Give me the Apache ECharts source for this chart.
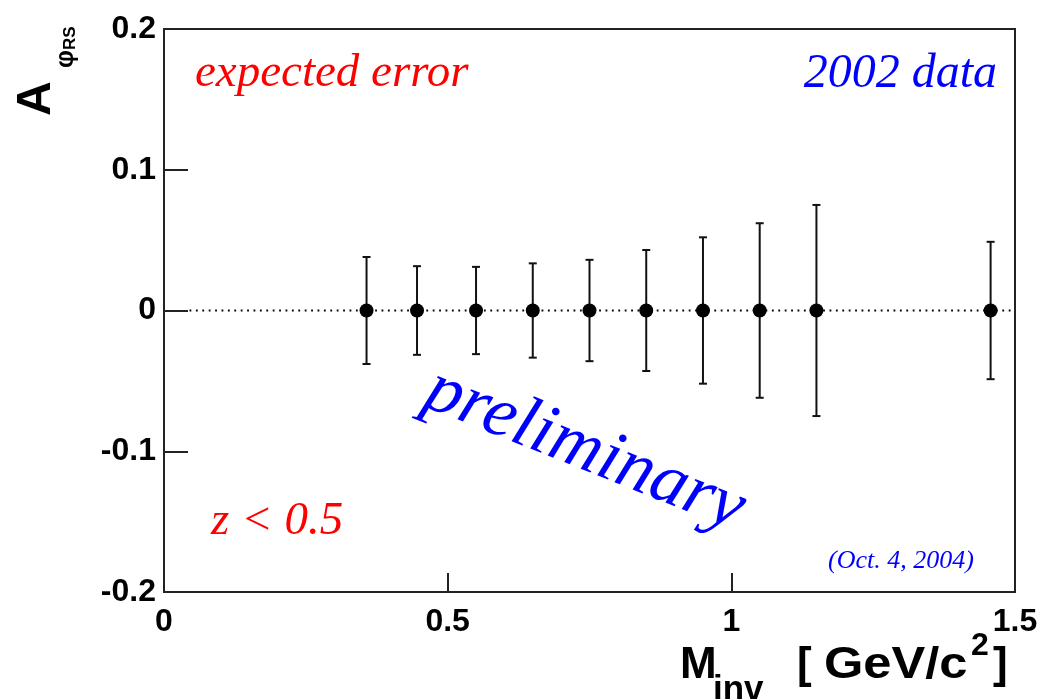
<!DOCTYPE html>
<html>
<head>
<meta charset="utf-8">
<script src="https://cdn.jsdelivr.net/npm/echarts@6/dist/echarts.min.js"></script>
<style>html,body{margin:0;padding:0;background:#fff;}#c{width:1043px;height:699px;}</style>
</head>
<body>
<div id="c"></div>
<script>
// Data
var massBins = [0.357, 0.446, 0.55, 0.65, 0.75, 0.85, 0.95, 1.05, 1.15, 1.457];
var asymValues = [0, 0, 0, 0, 0, 0, 0, 0, 0, 0];
var asymErrors = [0.038, 0.0315, 0.031, 0.0335, 0.036, 0.043, 0.052, 0.062, 0.075, 0.0488];
var zeroLine = [[0.045, 0], [1.495, 0]];
var xTicks = { min: 0, max: 1.5, interval: 0.5 };
var yTicks = { min: -0.2, max: 0.2, interval: 0.1 };

var points = massBins.map(function (x, i) { return [x, asymValues[i]]; });
var bars = massBins.map(function (x, i) { return [x, asymValues[i], asymErrors[i]]; });

var SANS = '"Liberation Sans", Arial, Helvetica, sans-serif';
var SERIF = '"Liberation Serif", "Times New Roman", serif';

var chart = echarts.init(document.getElementById('c'), null, { renderer: 'canvas' });
chart.setOption({
  animation: false,
  backgroundColor: '#fff',
  grid: { left: 164, right: 28, top: 29, bottom: 107, show: true, borderColor: '#222', borderWidth: 2, backgroundColor: 'transparent' },
  xAxis: {
    type: 'value', min: xTicks.min, max: xTicks.max, interval: xTicks.interval,
    axisLine: { show: true, onZero: false, lineStyle: { color: '#222', width: 2 } },
    axisTick: { show: true, inside: true, length: 19, lineStyle: { color: '#222', width: 2 } },
    axisLabel: { color: '#000', fontFamily: SANS, fontWeight: 'bold', fontSize: 32, margin: 14 },
    splitLine: { show: false }
  },
  yAxis: {
    type: 'value', min: yTicks.min, max: yTicks.max, interval: yTicks.interval,
    axisLine: { show: true, onZero: false, lineStyle: { color: '#222', width: 2 } },
    axisTick: { show: true, inside: true, length: 24, lineStyle: { color: '#222', width: 2 } },
    axisLabel: { color: '#000', fontFamily: SANS, fontWeight: 'bold', fontSize: 32, margin: 8 },
    splitLine: { show: false }
  },
  series: [
    {
      type: 'line', data: zeroLine, symbol: 'none', silent: true,
      lineStyle: { color: '#000', width: 1.8, type: [1.8, 4.6] }, z: 1
    },
    {
      type: 'custom', data: bars, z: 2,
      renderItem: function (params, api) {
        var x = api.value(0), y = api.value(1), e = api.value(2);
        var top = api.coord([x, y + e]);
        var bot = api.coord([x, y - e]);
        var cw = 4;
        var st = { stroke: '#111', lineWidth: 2 };
        return {
          type: 'group',
          children: [
            { type: 'line', shape: { x1: top[0], y1: top[1], x2: bot[0], y2: bot[1] }, style: st },
            { type: 'line', shape: { x1: top[0] - cw, y1: top[1], x2: top[0] + cw, y2: top[1] }, style: st },
            { type: 'line', shape: { x1: bot[0] - cw, y1: bot[1], x2: bot[0] + cw, y2: bot[1] }, style: st }
          ]
        };
      }
    },
    {
      type: 'scatter', data: points, symbol: 'circle', symbolSize: 14, z: 3,
      itemStyle: { color: '#000', opacity: 1 }
    }
  ],
  graphic: [
    { type: 'text', left: 195, top: 50, style: { text: 'expected error', fill: '#ff0000', font: 'italic 47px ' + SERIF } },
    { type: 'text', right: 46, top: 50, style: { text: '2002 data', fill: '#0000ff', font: 'italic 48px ' + SERIF } },
    { type: 'text', left: 211, top: 498, style: { text: 'z < 0.5', fill: '#ff0000', font: 'italic 47px ' + SERIF } },
    { type: 'text', left: 828, top: 548, style: { text: '(Oct. 4, 2004)', fill: '#0000ff', font: 'italic 26px ' + SERIF } },
    { type: 'text', x: 585, y: 450, rotation: -0.38,
      style: { text: 'preliminary', fill: '#0000ff', font: 'italic 72px ' + SERIF, textAlign: 'center', textVerticalAlign: 'middle' } },
    // y axis title A_{phi_RS}
    { type: 'group', x: 61, y: 116, rotation: Math.PI / 2,
      children: [
        { type: 'text', x: 0, y: 0, style: { text: 'A', fill: '#000', font: 'bold 48px ' + SANS, textAlign: 'left', textVerticalAlign: 'bottom' } },
        { type: 'text', x: 48, y: 18, style: { text: 'φ', fill: '#000', font: 'bold 25px ' + SANS, textAlign: 'left', textVerticalAlign: 'bottom' } },
        { type: 'text', x: 66, y: 18, style: { text: 'RS', fill: '#000', font: 'bold 17px ' + SANS, textAlign: 'left', textVerticalAlign: 'bottom' } }
      ]
    },
    // x axis title M_inv [ GeV/c^2 ]
    { type: 'text', x: 680, y: 688, style: { text: 'M', fill: '#000', font: 'bold 44px ' + SANS, textAlign: 'left', textVerticalAlign: 'bottom' } },
    { type: 'text', x: 713, y: 708, style: { text: 'inv', fill: '#000', font: 'bold 35px ' + SANS, textAlign: 'left', textVerticalAlign: 'bottom' } },
    { type: 'text', x: 797, y: 688, style: { text: '[', fill: '#000', font: 'bold 44px ' + SANS, textAlign: 'left', textVerticalAlign: 'bottom' } },
    { type: 'text', x: 824, y: 688, scaleX: 1.15, style: { text: 'GeV/c', fill: '#000', font: 'bold 44px ' + SANS, textAlign: 'left', textVerticalAlign: 'bottom' } },
    { type: 'text', x: 971, y: 662, style: { text: '2', fill: '#000', font: 'bold 32px ' + SANS, textAlign: 'left', textVerticalAlign: 'bottom' } },
    { type: 'text', x: 993, y: 688, style: { text: ']', fill: '#000', font: 'bold 44px ' + SANS, textAlign: 'left', textVerticalAlign: 'bottom' } }
  ]
});
</script>
</body>
</html>
